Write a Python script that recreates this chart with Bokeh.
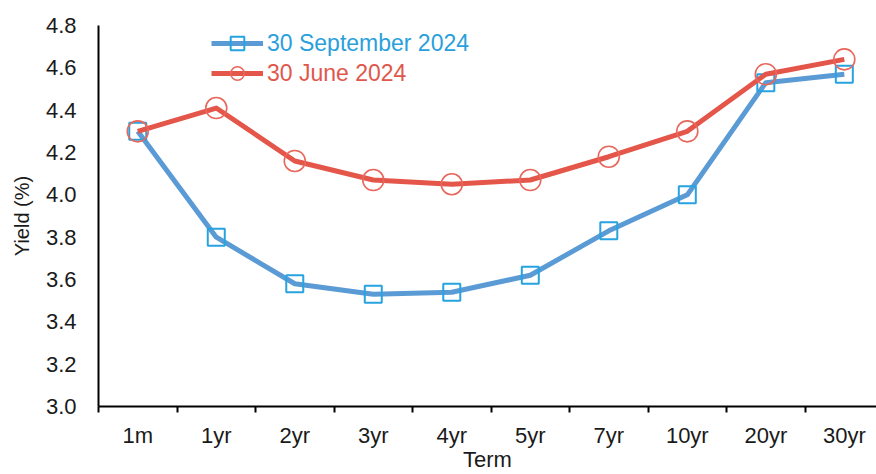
from bokeh.plotting import figure
from bokeh.models import Range1d, FixedTicker, NumeralTickFormatter, Legend, LegendItem
from bokeh.embed import file_html
from bokeh.resources import INLINE

terms = ["1m", "1yr", "2yr", "3yr", "4yr", "5yr", "7yr", "10yr", "20yr", "30yr"]
sep_2024 = [4.30, 3.80, 3.58, 3.53, 3.54, 3.62, 3.83, 4.00, 4.53, 4.57]
jun_2024 = [4.30, 4.41, 4.16, 4.07, 4.05, 4.07, 4.18, 4.30, 4.57, 4.64]
y_ticks = [3.0, 3.2, 3.4, 3.6, 3.8, 4.0, 4.2, 4.4, 4.6, 4.8]
sep_label = "30 September 2024"
jun_label = "30 June 2024"

FONT = "Liberation Sans"
idx = list(range(len(terms)))

p = figure(width=876, height=474, output_backend="svg", toolbar_location=None,
           x_range=Range1d(-0.5, 9.41), y_range=Range1d(3.0, 4.8),
           min_border_left=98, min_border_right=0, min_border_top=25, min_border_bottom=67)
p.outline_line_color = None
p.grid.visible = False
p.background_fill_color = "white"
p.border_fill_color = "white"

# series
sep_line = p.line(idx, sep_2024, line_color="#5B9BD5", line_width=5, line_join="round")
sep_pts = p.scatter(idx, sep_2024, marker="square", size=17, fill_color=None,
                    line_color="#27A3DF", line_width=2)
jun_line = p.line(idx, jun_2024, line_color="#E4564A", line_width=5, line_join="round")
jun_pts = p.scatter(idx, jun_2024, marker="circle", size=21, fill_color=None,
                    line_color="#E8675C", line_width=1.6)

# x axis: labels at category centres, ticks at boundaries (minor ticks)
xa = p.xaxis[0]
xa.ticker = FixedTicker(ticks=idx, minor_ticks=[i - 0.5 for i in range(len(terms) + 1)])
xa.major_label_overrides = {i: t for i, t in enumerate(terms)}
xa.major_tick_out = 0
xa.major_tick_in = 0
xa.minor_tick_out = 6
xa.minor_tick_in = 0
xa.minor_tick_line_color = "black"
xa.minor_tick_line_width = 2
xa.axis_line_width = 2
xa.axis_line_color = "black"
xa.major_label_text_font = FONT
xa.major_label_text_font_size = "22px"
xa.major_label_text_color = "#1a1a1a"
xa.major_label_standoff = 10
xa.axis_label = "Term"
xa.axis_label_text_font = FONT
xa.axis_label_text_font_size = "22px"
xa.axis_label_text_font_style = "normal"
xa.axis_label_text_color = "#1a1a1a"
xa.axis_label_standoff = -4

ya = p.yaxis[0]
ya.ticker = FixedTicker(ticks=y_ticks)
ya.formatter = NumeralTickFormatter(format="0.0")
ya.major_tick_out = 0
ya.major_tick_in = 0
ya.minor_tick_out = 0
ya.minor_tick_in = 0
ya.axis_line_width = 2
ya.axis_line_color = "black"
ya.major_label_text_font = FONT
ya.major_label_text_font_size = "22px"
ya.major_label_text_color = "#1a1a1a"
ya.major_label_standoff = 22
ya.axis_label = "Yield (%)"
ya.axis_label_text_font = FONT
ya.axis_label_text_font_size = "20px"
ya.axis_label_text_font_style = "normal"
ya.axis_label_text_color = "#1a1a1a"
ya.axis_label_standoff = 10

def make_legend(label, renderers, color, bottom_from_frame_bottom):
    lg = Legend(items=[LegendItem(label=label, renderers=renderers)],
                location=(113, bottom_from_frame_bottom))
    lg.border_line_color = None
    lg.background_fill_alpha = 0
    lg.padding = 0
    lg.margin = 0
    lg.glyph_width = 52
    lg.glyph_height = 34
    lg.label_height = 20
    lg.label_standoff = 4
    lg.label_text_font = FONT
    lg.label_text_font_size = "23px"
    lg.label_text_color = color
    return lg

p.add_layout(make_legend(sep_label, [sep_line, sep_pts], "#2A9FDB", 346))
p.add_layout(make_legend(jun_label, [jun_line, jun_pts], "#E0574C", 316))

open("out.html", "w").write(file_html(p, INLINE))
